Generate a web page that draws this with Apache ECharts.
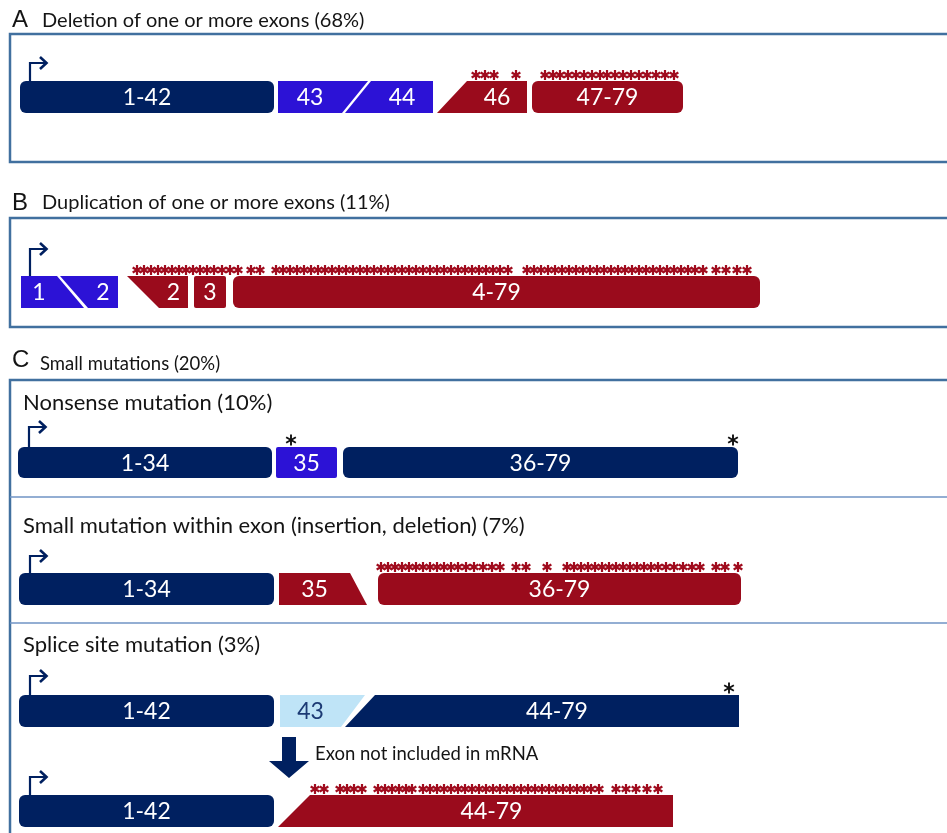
<!DOCTYPE html>
<html><head><meta charset="utf-8">
<script src="https://cdn.jsdelivr.net/npm/echarts@6/dist/echarts.min.js"></script>
<style>html,body{margin:0;padding:0;background:#fff}#c{width:947px;height:833px}</style>
</head><body><div id="c"></div>
<script>
// ---------------- DATA ----------------
const panelLetters = ['A', 'B', 'C'];
const panelTitles = ['Deletion of one or more exons (68%)', 'Duplication of one or more exons (11%)', 'Small mutations (20%)'];
const subTitles = ['Nonsense mutation (10%)', 'Small mutation within exon (insertion, deletion) (7%)', 'Splice site mutation (3%)'];
const arrowNote = 'Exon not included in mRNA';

// exon blocks along the gene track: [label, topLeft, topRight, bottomRight, bottomLeft, kind]
const rowA   = [['1-42', 20, 274, 274, 20, 'wt'], ['43', 278, 368, 342, 278, 'hit'], ['44', 371, 433, 433, 345, 'hit'],
                ['46', 467, 527, 527, 437, 'oof'], ['47-79', 532, 683, 683, 532, 'oof']];
const rowB   = [['1', 21, 57, 84, 21, 'hit'], ['2', 60, 118, 118, 88, 'hit'], ['2', 127, 188, 188, 159, 'oof'],
                ['3', 194, 226, 226, 194, 'oof'], ['4-79', 233, 760, 760, 233, 'oof']];
const rowC1  = [['1-34', 18, 272, 272, 18, 'wt'], ['35', 276, 337, 337, 276, 'hit'], ['36-79', 343, 738, 738, 343, 'wt']];
const rowC2  = [['1-34', 19, 274, 274, 19, 'wt'], ['35', 279, 350, 367, 279, 'oof'], ['36-79', 378, 741, 741, 378, 'oof']];
const rowC3a = [['1-42', 19, 274, 274, 19, 'wt'], ['43', 280, 365, 341, 280, 'skip'], ['44-79', 375, 739, 739, 345, 'wt']];
const rowC3b = [['1-42', 19, 274, 274, 19, 'wt'], ['44-79', 310, 673, 673, 278, 'oof']];

// premature stop codons (red = downstream of frameshift, black = nonsense)
const stopsA  = [476, 485, 494, 516, 545, 553, 560, 568, 576, 584, 592, 600, 607, 615, 623, 631, 639, 647, 656, 665, 674];
const stopsB  = [137, 144, 151, 158, 165, 172, 179, 186, 193, 200, 207, 214, 222, 230, 238, 251, 260,
                 276, 283, 290, 297, 304, 311, 318, 325, 332, 339, 346, 353, 360, 367, 374, 381, 388, 395, 402, 409, 416,
                 423, 430, 437, 444, 451, 458, 465, 472, 479, 486, 493, 500, 508,
                 527, 534, 541, 548, 555, 562, 569, 576, 583, 590, 597, 604, 611, 618, 625, 632, 639, 646, 653, 660,
                 667, 674, 681, 688, 695, 703, 716, 726, 737, 747];
const stopsC2 = [381, 388, 395, 402, 409, 416, 423, 430, 437, 444, 451, 458, 466, 474, 483, 492, 500, 516, 526, 547,
                 567, 574, 581, 588, 595, 602, 609, 616, 623, 630, 637, 644, 651, 658, 666, 674, 683, 692, 700, 716, 725, 738];
const stopsC3b = [315, 324, 340, 347, 354, 362, 378, 385, 392, 399, 406, 412, 423, 430, 437, 444, 451, 458, 465, 472,
                  479, 486, 493, 500, 507, 514, 521, 528, 535, 542, 549, 556, 563, 570, 577, 584, 591, 599, 616, 626, 636, 647, 658];
const stopsC1 = [291, 733];
const stopsC3a = [729];

// ---------------- LAYOUT / STYLE ----------------
const bands = { A: [81, 113], B: [276, 308], C1: [447, 478], C2: [573, 605], C3a: [695, 727], C3b: [795, 827] };
const rise = { A: 18, B: 27, C1: 20, C2: 17, C3a: 19, C3b: 18 };
const promoterX = { A: 30, B: 30, C1: 29, C2: 30, C3a: 30, C3b: 30 };
const kindColor = { wt: '#002060', hit: '#2c12d6', oof: '#9a0b1c', skip: '#bfe4f7' };
const frames = [[10, 34, 162], [10, 218, 327], [10, 380, 900]];
const dividers = [497, 623];
const rowsSpec = [['A', rowA], ['B', rowB], ['C1', rowC1], ['C2', rowC2], ['C3a', rowC3a], ['C3b', rowC3b]];
const stopSpec = [['A', stopsA, 'r'], ['B', stopsB, 'r'], ['C2', stopsC2, 'r'], ['C3b', stopsC3b, 'r'], ['C1', stopsC1, 'k'], ['C3a', stopsC3a, 'k']];

const texts = [];
panelLetters.forEach((t, i) => texts.push({ t, x: 12, y: [20, 203, 360][i], font: '24px "Liberation Sans"' }));
panelTitles.forEach((t, i) => texts.push({ t, x: [42, 42, 40][i], y: [21, 203, 364][i], font: i < 2 ? '20px Lato' : '18.5px Lato' }));
subTitles.forEach((t, i) => texts.push({ t, x: 23, y: [403, 526, 645][i], font: '22px Lato' }));
texts.push({ t: arrowNote, x: 315, y: 754, font: '18.5px Lato' });

const blocks = [];
rowsSpec.forEach(([r, arr]) => arr.forEach(d => blocks.push({ r, d })));
const stars = [];
stopSpec.forEach(([r, xs, k]) => xs.forEach(x => stars.push({ r, x, k })));

const chart = echarts.init(document.getElementById('c'), null, { renderer: 'canvas' });

function renderFrame(params, api) {
  const f = frames[params.dataIndex];
  const a = api.coord([f[0], f[1]]), b = api.coord([960, f[2]]);
  return { type: 'rect', shape: { x: a[0], y: a[1], width: b[0] - a[0], height: b[1] - a[1] },
           style: { fill: null, stroke: '#41709f', lineWidth: 2.5 } };
}
function renderDivider(params, api) {
  const y = dividers[params.dataIndex];
  const a = api.coord([10, y]), b = api.coord([960, y]);
  return { type: 'line', shape: { x1: a[0], y1: a[1], x2: b[0], y2: b[1] }, style: { stroke: '#6f93c4', lineWidth: 1.5 } };
}
function renderBlock(params, api) {
  const { r, d } = blocks[params.dataIndex];
  const [lab, tl, tr, br, bl, kind] = d;
  const band = bands[r];
  const p = (x, y) => api.coord([x, y]);
  const col = kindColor[kind];
  let shape;
  if (tl === bl && tr === br) {
    const a = p(tl, band[0]), c = p(tr, band[1]);
    shape = { type: 'rect', shape: { x: a[0], y: a[1], width: c[0] - a[0], height: c[1] - a[1], r: (tr - tl) > 80 ? 6 : 2 }, style: { fill: col } };
  } else {
    shape = { type: 'polygon', shape: { points: [p(tl, band[0]), p(tr, band[0]), p(br, band[1]), p(bl, band[1])] }, style: { fill: col } };
  }
  const lx = (Math.max(tl, bl) + Math.min(tr, br)) / 2;
  const lp = p(lx, (band[0] + band[1]) / 2);
  const text = { type: 'text', x: lp[0], y: lp[1] + 1,
    style: { text: lab, fill: kind === 'skip' ? '#1c3a74' : '#ffffff', font: '23px Lato', align: 'center', verticalAlign: 'middle' } };
  return { type: 'group', children: [shape, text] };
}
function renderPromoter(params, api) {
  const r = rowsSpec[params.dataIndex][0];
  const x = promoterX[r], top = bands[r][0], h = rise[r];
  const p = (xx, yy) => api.coord([xx, yy]);
  const c = '#002060';
  return { type: 'group', children: [
    { type: 'polyline', shape: { points: [p(x, top), p(x, top - h), p(x + 16, top - h)] }, style: { stroke: c, lineWidth: 2.2, fill: null } },
    { type: 'polyline', shape: { points: [p(x + 10, top - h - 6), p(x + 16.5, top - h), p(x + 10, top - h + 6)] }, style: { stroke: c, lineWidth: 2.6, fill: null } }
  ] };
}
function renderStar(params, api) {
  const s = stars[params.dataIndex];
  const top = bands[s.r][0];
  const red = s.k === 'r';
  const c = api.coord([s.x, top - (red ? 6 : 7)]);
  const R = red ? 5 : 5.6;
  const col = red ? '#a00c1e' : '#111111';
  const lw = red ? 2.2 : 1.9;
  const kids = [];
  [90, 30, 150].forEach(a => {
    const rad = a * Math.PI / 180, dx = Math.cos(rad) * R, dy = Math.sin(rad) * R;
    kids.push({ type: 'line', shape: { x1: c[0] - dx, y1: c[1] - dy, x2: c[0] + dx, y2: c[1] + dy }, style: { stroke: col, lineWidth: lw } });
  });
  return { type: 'group', children: kids };
}
function renderText(params, api) {
  const t = texts[params.dataIndex];
  const c = api.coord([t.x, t.y]);
  return { type: 'text', x: c[0], y: c[1], style: { text: t.t, font: t.font, fill: '#141414', align: 'left', verticalAlign: 'middle' } };
}
function renderDownArrow(params, api) {
  const p = (x, y) => api.coord([x, y]);
  const cx = 289;
  return { type: 'polygon', shape: { points: [p(cx - 7, 737), p(cx + 7, 737), p(cx + 7, 761), p(cx + 20, 761), p(cx, 778), p(cx - 20, 761), p(cx - 7, 761)] },
           style: { fill: '#002060' } };
}

const idx = arr => arr.map((_, i) => [i, i]);
chart.setOption({
  animation: false,
  grid: { left: 0, right: 0, top: 0, bottom: 0 },
  xAxis: { type: 'value', min: 0, max: 947, show: false },
  yAxis: { type: 'value', min: 0, max: 833, inverse: true, show: false },
  series: [
    { type: 'custom', clip: false, renderItem: renderFrame, data: idx(frames), silent: true },
    { type: 'custom', clip: false, renderItem: renderDivider, data: idx(dividers), silent: true },
    { type: 'custom', clip: false, renderItem: renderBlock, data: idx(blocks), silent: true },
    { type: 'custom', clip: false, renderItem: renderPromoter, data: idx(rowsSpec), silent: true },
    { type: 'custom', clip: false, renderItem: renderStar, data: idx(stars), silent: true },
    { type: 'custom', clip: false, renderItem: renderText, data: idx(texts), silent: true },
    { type: 'custom', clip: false, renderItem: renderDownArrow, data: [[0, 0]], silent: true }
  ]
});
</script></body></html>
